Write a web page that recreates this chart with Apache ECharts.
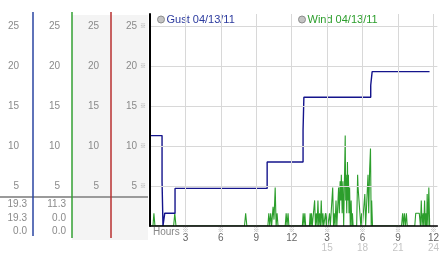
<!DOCTYPE html>
<html><head><meta charset="utf-8">
<script src="https://cdn.jsdelivr.net/npm/echarts@6/dist/echarts.min.js"></script>
<style>html,body{margin:0;padding:0;background:#fff}#c{width:442px;height:253px}</style>
</head><body><div id="c"></div>
<script>
// ---- data ----
const gustName = 'Gust 04/13/11';
const windName = 'Wind 04/13/11';
const gustHours  = [0,    1.02, 1.1, 1.25, 2.12, 9.92, 12.96, 13.03, 18.69, 18.81, 23.67];
const gustValues = [11.3, 5.6,  0,   1.6,  4.7,  8.0,  12.0,  16.1,  17.6,  19.3,  19.3];
const windHours = [
  0,0.25,0.33,0.42, 2.0,2.1,2.2, 8.0,8.1,8.2,
  9.98,10.06,10.14,10.22,10.3,10.42,10.5,10.6,10.68,10.76,10.84,
  11.45,11.53,11.6,11.69,11.76,
  12.9,12.97,13.04,13.11,13.18, 13.5,13.56,13.62,13.67,13.74,
  13.88,13.94,14.01,14.08,14.15,14.22,14.29,14.36,14.43,14.5,14.57,14.64,14.71,
  14.8,14.86,14.93,15.0,15.07,15.13,15.2,15.27,
  15.4,15.47,15.54,15.6,15.67,15.75,15.82,
  15.9,15.97,16.03,16.1,16.15,16.2,16.27,16.33,16.4,16.47,16.53,16.57,16.6,16.66,16.72,16.76,16.8,16.85,16.9,16.96,17.03,17.09,17.14,17.2,
  17.5,17.58,17.62,17.78,17.85,17.92,17.98,
  18.1,18.19,18.26, 18.4,18.46,18.52,18.6,18.67,18.73,18.77,18.84,
  21.3,21.39,21.46,21.54,21.62,21.71,21.78,
  22.42,22.5,22.8,22.9,22.97,23.04,23.12,23.18,23.25,23.31,23.36,23.42,23.47,23.54,23.61,23.68,23.75
];
const windValues = [
  0,0,1.6,0, 0,1.6,0, 0,1.6,0,
  0,1.6,0,1.6,0,2.4,0.8,4.8,0,1.6,0,
  0,1.6,0,1.6,0,
  0,1.6,0,1.6,0, 0,1.6,0,1.6,0,
  0,3.2,0,1.6,0,3.2,0,1.6,0,3.2,0,1.6,0,
  0,1.6,0,1.6,0,0,1.6,0,
  0,4.8,0,1.6,0,3.2,0,
  0,4.8,1.6,5.6,3.2,6.4,1.6,5.6,0,0,11.3,3.2,6.4,1.6,8.0,3.2,6.4,1.6,4.8,0,3.2,0,1.6,0,
  0,6.4,4.8,4.8,0,1.6,0,
  0,4.0,0, 0,6.4,1.6,7.2,9.7,0,3.2,0,
  0,1.6,0,1.6,0,1.6,0,
  0,1.6,1.6,0,3.2,0,1.6,0,3.2,0,1.6,0,4.0,0,4.8,0,0
];
const yTicks = [5, 10, 15, 20, 25];
const xTickHours  = [3, 6, 9, 12, 15, 18, 21, 24];
const xTickTop    = ['3','6','9','12','3','6','9','12'];
const xTickBottom = ['','','','','15','18','21','24'];
const col1Values = ['19.3', '19.3', '0.0'];
const col2Values = ['11.3', '0.0', '0.0'];
const hoursLabel = 'Hours';

// ---- chart ----
const FONT = 'Liberation Sans';
const labelGray = '#8a8a8a';
const yFmt = v => yTicks.includes(v) ? String(v) : '';
const yMainFmt = v => yTicks.includes(v) ? '{v|' + v + '}{t|※}' : '';
const xFmt = v => {
  const i = xTickHours.indexOf(Math.round(v * 100) / 100);
  if (i < 0) return '';
  let s = '{t|※}\n{a|' + xTickTop[i] + '}';
  if (xTickBottom[i]) s += '\n{b|' + xTickBottom[i] + '}';
  return s;
};
function sideAxis(offset, margin) {
  return {
    type: 'value', gridIndex: 0, position: 'left', offset: offset,
    min: 0, max: 26.5, interval: 5,
    axisLine: {show: false}, axisTick: {show: false}, splitLine: {show: false},
    axisLabel: {margin: margin, color: labelGray, fontSize: 10, fontFamily: FONT, formatter: yFmt}
  };
}
const graphics = [
  {type: 'rect', shape: {x: 72, y: 15, width: 76, height: 225}, style: {fill: '#f4f4f4'}, z: -10, silent: true},
  {type: 'line', shape: {x1: 0, y1: 197, x2: 148, y2: 197}, style: {stroke: '#9a9a9a', lineWidth: 2}, z: -5},
  {type: 'line', shape: {x1: 33, y1: 12, x2: 33, y2: 236}, style: {stroke: '#2a44a2', lineWidth: 1.5}, z: -4},
  {type: 'line', shape: {x1: 72, y1: 12, x2: 72, y2: 238}, style: {stroke: '#33a033', lineWidth: 1.5}, z: -4},
  {type: 'line', shape: {x1: 111, y1: 12, x2: 111, y2: 238}, style: {stroke: '#b83030', lineWidth: 1.5}, z: -4},
  {type: 'text', left: 153, top: 227, style: {text: hoursLabel, fill: '#888', font: '10px "Liberation Sans"'}}
];
const rowsY = [199, 213, 226];
col1Values.forEach((t, i) => graphics.push({type: 'text', right: 442 - 27, top: rowsY[i], style: {text: t, fill: labelGray, font: '10px "Liberation Sans"'}}));
col2Values.forEach((t, i) => graphics.push({type: 'text', right: 442 - 66, top: rowsY[i], style: {text: t, fill: labelGray, font: '10px "Liberation Sans"'}}));

const legendBase = {
  top: 14, padding: 0, icon: 'circle', itemWidth: 7, itemHeight: 7, selectedMode: false,
  itemStyle: {color: '#c4c4c4', borderColor: '#8c8c8c', borderWidth: 1}
};
const option = {
  animation: false,
  backgroundColor: '#fff',
  grid: {left: 150, right: 0, top: 14, bottom: 27, containLabel: false},
  legend: [
    Object.assign({}, legendBase, {left: 157, data: [gustName],
      textStyle: {color: '#2b3a9e', fontSize: 11, fontFamily: FONT, padding: [0, 0, 0, -3]}}),
    Object.assign({}, legendBase, {left: 298, data: [windName],
      textStyle: {color: '#2c9e2c', fontSize: 11, fontFamily: FONT, padding: [0, 0, 0, -3]}})
  ],
  xAxis: {
    type: 'value', min: 0, max: 24.333, interval: 3, z: 5,
    axisLine: {show: true, lineStyle: {color: '#000', width: 1.5}},
    axisTick: {show: false},
    splitLine: {show: true, showMinLine: false, showMaxLine: false, lineStyle: {color: '#d8d8d8', width: 1}},
    axisLabel: {
      margin: 1, formatter: xFmt, showMaxLabel: false,
      rich: {
        t: {fontSize: 6, lineHeight: 6, color: '#a0a0a0', fontFamily: 'Noto Sans CJK SC'},
        a: {fontSize: 10, lineHeight: 10, color: '#666', fontFamily: FONT},
        b: {fontSize: 10, lineHeight: 10, color: '#c4c4c4', fontFamily: FONT}
      }
    }
  },
  yAxis: [
    {
      type: 'value', position: 'left', offset: 2, min: 0, max: 26.5, interval: 5, z: 5,
      axisLine: {show: true, lineStyle: {color: '#000', width: 2}},
      axisTick: {show: false},
      splitLine: {show: true, showMaxLine: false, lineStyle: {color: '#d8d8d8', width: 1}},
      axisLabel: {
        margin: 2, formatter: yMainFmt,
        rich: {
          v: {fontSize: 10, color: labelGray, fontFamily: FONT, padding: [0, 3, 0, 0]},
          t: {fontSize: 6, color: '#a0a0a0', fontFamily: 'Noto Sans CJK SC'}
        }
      }
    },
    sideAxis(39, 12),
    sideAxis(78, 12),
    sideAxis(117, 14)
  ],
  series: [
    {
      name: windName, type: 'line', yAxisIndex: 0, showSymbol: false,
      data: windHours.map((h, i) => [h, windValues[i]]),
      lineStyle: {color: '#2c9e2c', width: 1.1}, itemStyle: {color: '#2c9e2c'}, z: 2
    },
    {
      name: gustName, type: 'line', yAxisIndex: 0, showSymbol: false, step: 'end',
      data: gustHours.map((h, i) => [h, gustValues[i]]),
      lineStyle: {color: '#14148c', width: 1.4}, itemStyle: {color: '#14148c'}, z: 3
    }
  ],
  graphic: graphics
};
const chart = echarts.init(document.getElementById('c'), null, {renderer: 'canvas'});
chart.setOption(option);
</script></body></html>
